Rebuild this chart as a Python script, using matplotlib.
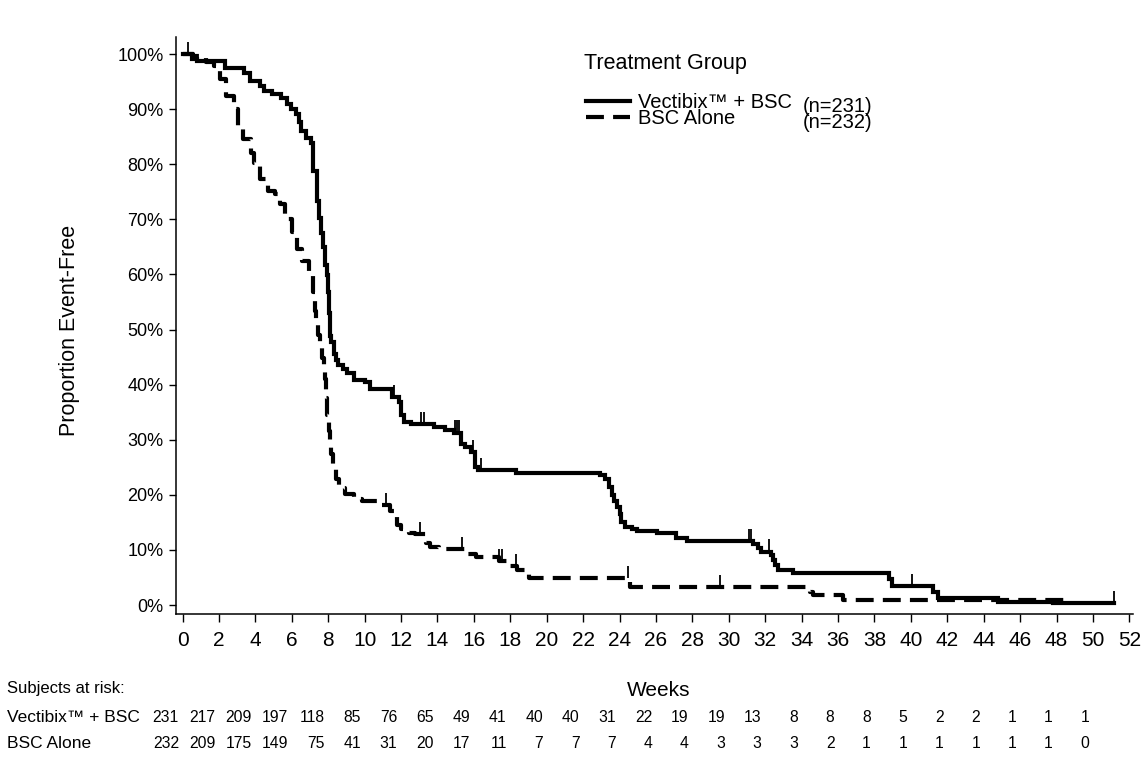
import numpy as np
import matplotlib
matplotlib.use("Agg")
import matplotlib.pyplot as plt
from matplotlib.lines import Line2D
import matplotlib.transforms as mtransforms

plt.rcParams['font.family'] = ['Liberation Sans', 'DejaVu Sans']

# ---------------- data ----------------
vec_weeks = [0.0, 0.5, 0.8, 2.34, 3.35, 3.72, 4.28, 4.48, 4.92, 5.40, 5.76, 5.95, 6.23,
             6.42, 6.52, 6.80, 7.04, 7.18, 7.38, 7.48, 7.60, 7.69, 7.84, 7.92, 8.00,
             8.06, 8.10, 8.18, 8.30, 8.40, 8.56, 8.80, 9.03, 9.40, 10.04, 10.32, 11.51,
             11.88, 11.98, 12.17, 12.54, 13.8, 14.4, 14.93, 15.3, 15.5, 15.85, 16.05,
             16.2, 18.34, 22.93, 23.2, 23.4, 23.56, 23.7, 23.85, 24.0, 24.1, 24.32,
             24.68, 24.96, 26.06, 27.09, 27.73, 31.31, 31.6, 31.77, 32.33, 32.45,
             32.55, 32.7, 33.52, 38.8, 38.94, 41.23, 41.5, 44.8, 47.8]
vec_surv = [1.000, 0.991, 0.987, 0.975, 0.966, 0.951, 0.942, 0.933, 0.927, 0.921, 0.909,
            0.901, 0.892, 0.877, 0.860, 0.847, 0.838, 0.787, 0.733, 0.702, 0.675, 0.650,
            0.618, 0.599, 0.569, 0.530, 0.489, 0.478, 0.455, 0.445, 0.436, 0.428, 0.421,
            0.408, 0.405, 0.393, 0.378, 0.369, 0.345, 0.333, 0.328, 0.323, 0.318, 0.313,
            0.293, 0.287, 0.278, 0.251, 0.245, 0.240, 0.236, 0.228, 0.215, 0.200, 0.188,
            0.178, 0.165, 0.150, 0.142, 0.138, 0.135, 0.130, 0.121, 0.116, 0.111, 0.104,
            0.097, 0.090, 0.081, 0.072, 0.064, 0.059, 0.048, 0.034, 0.023, 0.013, 0.006,
            0.003]
vec_last = 51.15
vec_censor = [0.3, 11.62, 13.1, 13.27, 14.97, 15.07, 15.17, 15.95, 16.4, 31.13, 31.22,
              32.23, 40.05, 51.15]

bsc_weeks = [0.0, 0.6, 1.3, 1.70, 2.07, 2.38, 2.84, 3.03, 3.32, 3.77, 3.95, 4.24, 4.70,
             5.06, 5.35, 5.63, 6.01, 6.29, 6.57, 6.94, 7.14, 7.25, 7.35, 7.45, 7.55,
             7.64, 7.75, 7.83, 7.90, 7.95, 8.02, 8.08, 8.15, 8.25, 8.44, 8.60, 8.91,
             9.4, 9.83, 10.75, 11.40, 11.76, 12.0, 12.41, 12.78, 13.35, 13.6, 14.06,
             15.55, 16.1, 17.38, 17.92, 18.38, 19.03, 24.55, 34.45, 34.6, 36.3]
bsc_surv = [1.000, 0.996, 0.985, 0.978, 0.954, 0.924, 0.900, 0.869, 0.845, 0.821, 0.803,
            0.773, 0.752, 0.746, 0.728, 0.701, 0.677, 0.647, 0.625, 0.597, 0.569, 0.534,
            0.510, 0.491, 0.470, 0.448, 0.425, 0.410, 0.375, 0.345, 0.315, 0.295, 0.275,
            0.255, 0.229, 0.212, 0.202, 0.193, 0.188, 0.182, 0.170, 0.146, 0.138, 0.131,
            0.128, 0.112, 0.105, 0.102, 0.093, 0.087, 0.079, 0.070, 0.064, 0.049, 0.033,
            0.024, 0.018, 0.0095]
bsc_last = 48.5
bsc_censor = [11.2, 13.06, 15.36, 17.38, 17.56, 18.3, 24.45, 29.5]

risk_weeks = list(range(0, 52, 2))
vec_risk = [231, 217, 209, 197, 118, 85, 76, 65, 49, 41, 40, 40, 31, 22, 19, 19, 13,
            8, 8, 8, 5, 2, 2, 1, 1, 1]
bsc_risk = [232, 209, 175, 149, 75, 41, 31, 20, 17, 11, 7, 7, 7, 4, 4, 3, 3, 3, 2,
            1, 1, 1, 1, 1, 1, 0]

x_ticks = list(range(0, 54, 2))
y_ticks = [i / 10 for i in range(11)]
y_tick_labels = [f"{i * 10}%" for i in range(11)]

vec_label = "Vectibix\u2122 + BSC"
bsc_label = "BSC Alone"
vec_n = "(n=231)"
bsc_n = "(n=232)"

# ---------------- figure ----------------
W, H = 1145, 761
fig = plt.figure(figsize=(W / 100, H / 100), dpi=100)
fig.patch.set_facecolor('white')

def fx(px):
    return px / W

def fy(py):
    return 1 - py / H

ax = fig.add_axes([fx(176), fy(614), (1133 - 176) / W, (614 - 37) / H])
ax.set_xlim(-0.36, 52.2)
ax.set_ylim(-0.0163, 1.031)

dash = (4.3, 2.2)
LW = 3.0

def step_xy(weeks, surv, last):
    xs = list(weeks) + [last]
    ys = list(surv) + [surv[-1]]
    return xs, ys

xs, ys = step_xy(vec_weeks, vec_surv, vec_last)
ax.step(xs, ys, where='post', color='black', lw=LW, solid_joinstyle='miter')
xs, ys = step_xy(bsc_weeks, bsc_surv, bsc_last)
ax.step(xs, ys, where='post', color='black', lw=LW, linestyle=(0, dash))

def surv_at(weeks, surv, t):
    i = np.searchsorted(np.asarray(weeks), t, side='right') - 1
    return surv[max(i, 0)]

tick_len = 0.022
for c in vec_censor:
    v = surv_at(vec_weeks, vec_surv, c)
    ax.vlines(c, v, v + tick_len, color='black', lw=1.3)
for c in bsc_censor:
    v = surv_at(bsc_weeks, bsc_surv, c)
    ax.vlines(c, v, v + tick_len, color='black', lw=1.3)

for s in ['top', 'right']:
    ax.spines[s].set_visible(False)
for s in ['left', 'bottom']:
    ax.spines[s].set_linewidth(1.1)
    ax.spines[s].set_color('black')

ax.set_xticks(x_ticks)
ax.set_xticklabels([str(t) for t in x_ticks], fontsize=15)
ax.set_yticks(y_ticks)
ax.set_yticklabels(y_tick_labels, fontsize=13)
ax.tick_params(axis='x', direction='out', length=6, width=1.0, pad=6, colors='black')
ax.tick_params(axis='y', direction='out', length=5, width=1.0, pad=4, colors='black')

ax.set_ylabel("Proportion Event-Free", fontsize=15.5)
ax.yaxis.set_label_coords((80 - 176) / (1133 - 176), (614 - 330) / (614 - 37))

fig.text(fx(659), fy(690), "Weeks", fontsize=15, ha='center', va='center')

# ---------------- legend ----------------
fig.text(fx(584), fy(63), "Treatment Group", fontsize=15.5, ha='left', va='center')
fig.add_artist(Line2D([fx(586), fx(630)], [fy(101), fy(101)], color='black', lw=LW,
                      transform=fig.transFigure))
fig.add_artist(Line2D([fx(586), fx(630)], [fy(117), fy(117)], color='black', lw=LW,
                      linestyle=(0, dash), transform=fig.transFigure))
fig.text(fx(638), fy(102), vec_label, fontsize=14.5, ha='left', va='center')
fig.text(fx(638), fy(119), bsc_label, fontsize=14.5, ha='left', va='center')
fig.text(fx(803), fy(106), vec_n, fontsize=14.5, ha='left', va='center')
fig.text(fx(803), fy(123), bsc_n, fontsize=14.5, ha='left', va='center')

# ---------------- at-risk table ----------------
row1_y, row2_y = 718, 744
fig.text(fx(7), fy(688), "Subjects at risk:", fontsize=12, ha='left', va='center')
fig.text(fx(7), fy(row1_y), vec_label, fontsize=12.5, ha='left', va='center')
fig.text(fx(7), fy(row2_y), bsc_label, fontsize=12.5, ha='left', va='center')

trans = mtransforms.blended_transform_factory(ax.transData, fig.transFigure)
NUM_FS = 11.3

def risk_row(counts, ypx):
    for wk, n in zip(risk_weeks, counts):
        fig.text(wk - 0.2, fy(ypx), str(n), fontsize=NUM_FS, ha='right', va='center',
                 transform=trans)

risk_row(vec_risk, row1_y)
risk_row(bsc_risk, row2_y)

fig.savefig("out.png", dpi=100, facecolor='white')
